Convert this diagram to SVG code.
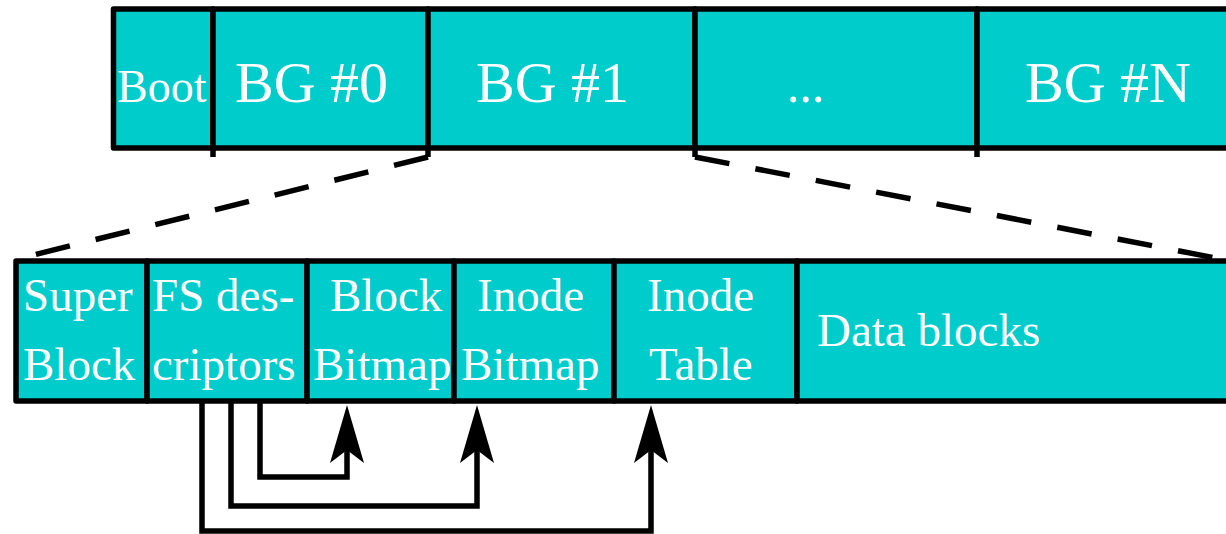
<svg xmlns="http://www.w3.org/2000/svg" width="1226" height="534" viewBox="0 0 1226 534">
  <style>
    .cell { fill: #00cccc; stroke: #000; stroke-width: 5.5; stroke-linejoin: round; }
    .lbl { fill: #fff; font-family: "Liberation Serif", "Times New Roman", serif; }
    .top { font-size: 58px; }
    .boot { font-size: 46px; }
    .bot { font-size: 47px; }
    .tick { stroke: #000; stroke-width: 5.5; }
    .dash { fill: none; stroke: #000; stroke-width: 5.5; stroke-dasharray: 35 26.5; }
    .ptr { fill: none; stroke: #000; stroke-width: 5.5; stroke-linejoin: miter; marker-end: url(#head); }
  </style>
  <defs>
    <marker id="head" markerUnits="userSpaceOnUse" viewBox="-13 -17 58 34" refX="0" refY="0" markerWidth="58" markerHeight="34" orient="auto" overflow="visible">
      <path d="M45 0 L-13 -17 L0 0 L-13 17 Z" fill="#000"/>
    </marker>
  </defs>

  <!-- disk layout: boot block followed by block groups -->
  <g id="disk">
    <g id="boot">
      <rect class="cell" x="113.5" y="9" width="99.5" height="139"/>
      <text class="lbl boot" x="117" y="102">Boot</text>
    </g>
    <g id="bg0">
      <rect class="cell" x="213" y="9" width="215" height="139"/>
      <text class="lbl top" x="235" y="102">BG #0</text>
    </g>
    <g id="bg1">
      <rect class="cell" x="428" y="9" width="267" height="139"/>
      <text class="lbl top" x="476" y="102">BG #1</text>
    </g>
    <g id="bg-more">
      <rect class="cell" x="695" y="9" width="282" height="139"/>
      <text class="lbl" x="787" y="102" font-size="50">...</text>
    </g>
    <g id="bgN">
      <rect class="cell" x="977" y="9" width="300" height="139"/>
      <text class="lbl top" x="1025" y="102">BG #N</text>
    </g>
    <g id="ticks">
      <line class="tick" x1="213" y1="148" x2="213" y2="157"/>
      <line class="tick" x1="428" y1="148" x2="428" y2="157"/>
      <line class="tick" x1="695" y1="148" x2="695" y2="157"/>
      <line class="tick" x1="977" y1="148" x2="977" y2="157"/>
    </g>
  </g>

  <!-- contents of one block group -->
  <g id="group">
    <g id="superblock">
      <rect class="cell" x="16" y="261" width="131" height="140"/>
      <text class="lbl bot" x="23" y="311">Super</text>
      <text class="lbl bot" x="23" y="380">Block</text>
    </g>
    <g id="fs-descriptors">
      <rect class="cell" x="147" y="261" width="160" height="140"/>
      <text class="lbl bot" x="152" y="311">FS des-</text>
      <text class="lbl bot" x="152" y="380">criptors</text>
    </g>
    <g id="block-bitmap">
      <rect class="cell" x="307" y="261" width="147" height="140"/>
      <text class="lbl bot" x="330" y="311">Block</text>
      <text class="lbl bot" x="313" y="380">Bitmap</text>
    </g>
    <g id="inode-bitmap">
      <rect class="cell" x="454" y="261" width="160" height="140"/>
      <text class="lbl bot" x="477" y="311">Inode</text>
      <text class="lbl bot" x="461" y="380">Bitmap</text>
    </g>
    <g id="inode-table">
      <rect class="cell" x="614" y="261" width="183" height="140"/>
      <text class="lbl bot" x="647" y="311">Inode</text>
      <text class="lbl bot" x="649" y="380">Table</text>
    </g>
    <g id="data-blocks">
      <rect class="cell" x="797" y="261" width="480" height="140"/>
      <text class="lbl bot" x="817" y="346">Data blocks</text>
    </g>
  </g>

  <g id="connectors">
    <!-- zoom lines from BG #1 down to its expanded layout -->
    <line class="dash" x1="428" y1="157" x2="17" y2="259"/>
    <line class="dash" x1="695" y1="157" x2="1226" y2="260"/>
    <!-- descriptor pointers -->
    <path class="ptr" d="M260 401 V477 H347 V450"/>
    <path class="ptr" d="M231 401 V506 H477 V450"/>
    <path class="ptr" d="M202 401 V531 H651 V450"/>
  </g>
</svg>
